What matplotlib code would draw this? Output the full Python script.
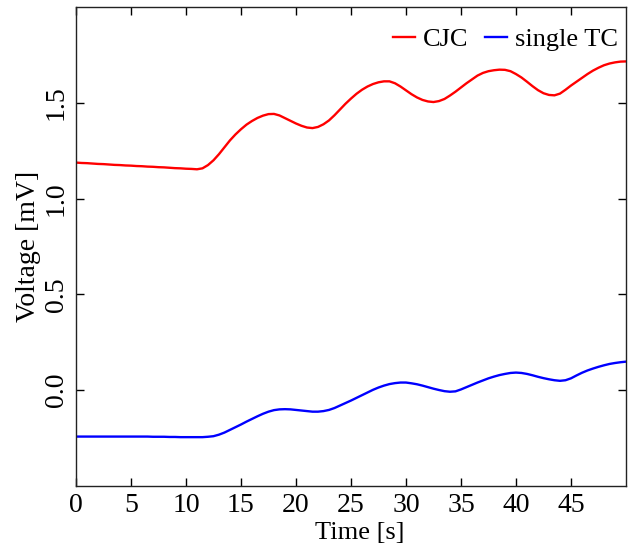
import numpy as np
import matplotlib.pyplot as plt

plt.rcParams['font.family'] = ['Liberation Serif', 'DejaVu Serif']
plt.rcParams['font.size'] = 19

# Time axis (s), read every half second, and readings (mV)
time = np.arange(0, 50.5, 0.5)
cjc = [1.188, 1.186, 1.185, 1.183, 1.181, 1.180, 1.178, 1.176, 1.175, 1.173,
       1.172, 1.170, 1.169, 1.167, 1.166, 1.164, 1.163, 1.161, 1.159, 1.158,
       1.156, 1.155, 1.153, 1.158, 1.175, 1.200, 1.232, 1.268, 1.304, 1.335,
       1.362, 1.386, 1.405, 1.421, 1.433, 1.441, 1.442, 1.434, 1.420, 1.406,
       1.392, 1.380, 1.371, 1.368, 1.374, 1.388, 1.408, 1.435, 1.465, 1.495,
       1.522, 1.547, 1.568, 1.585, 1.598, 1.607, 1.612, 1.612, 1.602, 1.585,
       1.565, 1.545, 1.528, 1.515, 1.507, 1.504, 1.509, 1.520, 1.538, 1.558,
       1.580, 1.602, 1.622, 1.642, 1.656, 1.665, 1.670, 1.673, 1.672, 1.665,
       1.650, 1.632, 1.610, 1.587, 1.566, 1.550, 1.541, 1.539, 1.548, 1.568,
       1.590, 1.610, 1.630, 1.650, 1.668, 1.683, 1.696, 1.705, 1.711, 1.715,
       1.716]
single_tc = [-0.242, -0.242, -0.242, -0.242, -0.242, -0.242, -0.242, -0.242, -0.242, -0.242,
             -0.242, -0.242, -0.242, -0.242, -0.243, -0.243, -0.243, -0.244, -0.244, -0.245,
             -0.245, -0.245, -0.245, -0.245, -0.243, -0.240, -0.232, -0.221, -0.207, -0.193,
             -0.179, -0.164, -0.150, -0.136, -0.123, -0.112, -0.104, -0.100, -0.099, -0.100,
             -0.103, -0.106, -0.109, -0.112, -0.112, -0.109, -0.103, -0.093, -0.080, -0.067,
             -0.054, -0.040, -0.026, -0.012, 0.002, 0.014, 0.024, 0.032, 0.037, 0.040,
             0.040, 0.036, 0.031, 0.024, 0.016, 0.008, 0.001, -0.005, -0.008, -0.006,
             0.004, 0.016, 0.028, 0.040, 0.051, 0.062, 0.071, 0.079, 0.085, 0.090,
             0.092, 0.090, 0.085, 0.078, 0.070, 0.063, 0.057, 0.052, 0.049, 0.052,
             0.062, 0.077, 0.091, 0.103, 0.113, 0.122, 0.130, 0.137, 0.142, 0.146,
             0.149]

fig = plt.figure(figsize=(6.29, 5.47), dpi=100)
ax = fig.add_axes([0.1208, 0.1115, 0.8744, 0.8757])

ax.plot(time, cjc, color='#ff0000', lw=1.7, label='CJC')
ax.plot(time, single_tc, color='#0000ff', lw=1.7, label='single TC')

ax.set_xlim(0, 50)
ax.set_ylim(-0.5, 2.0)
ax.set_xticks([0, 5, 10, 15, 20, 25, 30, 35, 40, 45])
ax.set_yticks([0.0, 0.5, 1.0, 1.5])
ax.set_yticklabels(['0.0', '0.5', '1.0', '1.5'], rotation=90, va='center')
ax.tick_params(direction='in', top=True, right=True, length=6, width=1, pad=5,
               labelsize=20)
for s in ax.spines.values():
    s.set_linewidth(1)
    s.set_color('#222222')

ax.set_xlabel('Time [s]', labelpad=3)
ax.xaxis.set_label_coords(0.516, -0.075)
ax.set_ylabel('Voltage [mV]', fontsize=20, labelpad=2)

ax.legend(loc='upper right', ncol=2, frameon=False, handlelength=0.85,
          handletextpad=0.3, columnspacing=0.6, borderaxespad=0.2,
          bbox_to_anchor=(1.014, 0.99))

fig.savefig('out.png', dpi=100)
